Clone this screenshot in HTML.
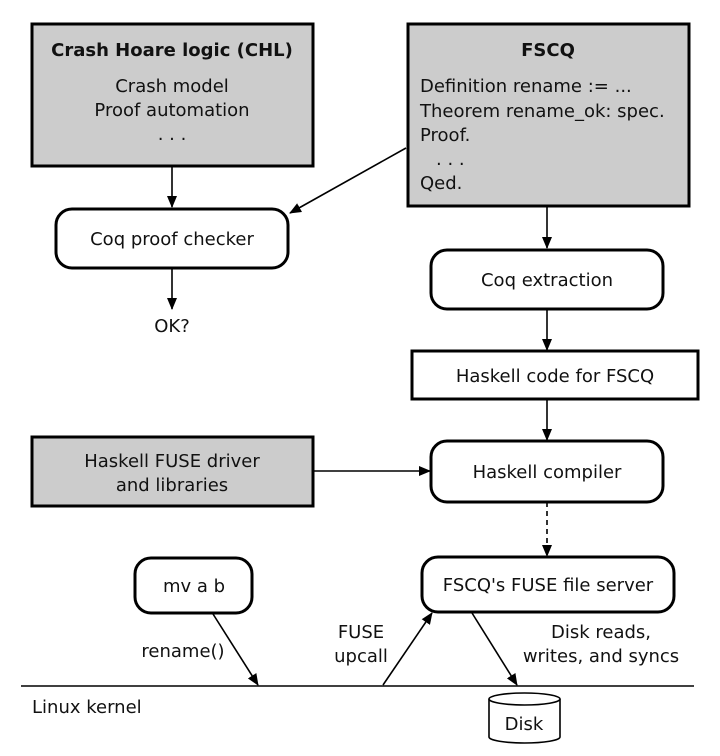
<!DOCTYPE html>
<html><head><meta charset="utf-8"><style>
html,body{margin:0;padding:0;background:#fff;}
svg{display:block;font-family:"DejaVu Sans","Liberation Sans",sans-serif;}
text{font-size:18px;fill:#111;}
</style></head><body>
<svg width="720" height="756" viewBox="0 0 720 756" xmlns="http://www.w3.org/2000/svg">
<defs>
<marker id="a" markerWidth="12" markerHeight="10" refX="11" refY="5" orient="auto" markerUnits="userSpaceOnUse">
<path d="M0,0 L12,5 L0,10 Z" fill="#000"/></marker>
</defs>
<g stroke="#000" stroke-width="3">
<rect x="32" y="24" width="281" height="142" fill="#cccccc"/>
<rect x="408" y="24" width="281" height="182" fill="#cccccc"/>
<rect x="56" y="209" width="232" height="59" rx="16" fill="#fff"/>
<rect x="431" y="250" width="232" height="59" rx="16" fill="#fff"/>
<rect x="412" y="351" width="286" height="48" fill="#fff"/>
<rect x="32" y="437" width="281" height="69" fill="#cccccc"/>
<rect x="431" y="441" width="232" height="61" rx="16" fill="#fff"/>
<rect x="135" y="558" width="117" height="55" rx="16" fill="#fff"/>
<rect x="422" y="557" width="252" height="55" rx="16" fill="#fff"/>
</g>
<g stroke="#000" stroke-width="1.6" fill="none">
<line x1="21" y1="686" x2="694" y2="686" stroke-width="1.4"/>
<line x1="172" y1="166" x2="172" y2="207" marker-end="url(#a)"/>
<line x1="406" y1="148" x2="290" y2="213" marker-end="url(#a)"/>
<line x1="547" y1="206" x2="547" y2="248" marker-end="url(#a)"/>
<line x1="172" y1="268" x2="172" y2="309" marker-end="url(#a)"/>
<line x1="547" y1="309" x2="547" y2="350" marker-end="url(#a)"/>
<line x1="547" y1="399" x2="547" y2="440" marker-end="url(#a)"/>
<line x1="313" y1="471" x2="430" y2="471" marker-end="url(#a)"/>
<line x1="547" y1="502" x2="547" y2="556" stroke-dasharray="5,4" marker-end="url(#a)"/>
<line x1="213" y1="614" x2="258" y2="685" marker-end="url(#a)"/>
<line x1="383" y1="685" x2="432" y2="613" marker-end="url(#a)"/>
<line x1="472" y1="613" x2="517" y2="685" marker-end="url(#a)"/>
</g>
<g stroke="#000" stroke-width="1.6" fill="#fff">
<path d="M489,699 L489,737 A35.5,6 0 0 0 560,737 L560,699"/>
<ellipse cx="524.5" cy="699" rx="35.5" ry="6"/>
</g>
<g text-anchor="middle">
<text x="172" y="56" font-weight="bold">Crash Hoare logic (CHL)</text>
<text x="172" y="92">Crash model</text>
<text x="172" y="116">Proof automation</text>
<text x="172" y="140">. . .</text>
<text x="548" y="56" font-weight="bold">FSCQ</text>
<text x="172" y="245">Coq proof checker</text>
<text x="172" y="332">OK?</text>
<text x="547" y="286">Coq extraction</text>
<text x="555" y="382">Haskell code for FSCQ</text>
<text x="172" y="467">Haskell FUSE driver</text>
<text x="172" y="491">and libraries</text>
<text x="547" y="478">Haskell compiler</text>
<text x="194" y="592">mv a b</text>
<text x="548" y="591">FSCQ's FUSE file server</text>
<text x="183" y="657">rename()</text>
<text x="361" y="638">FUSE</text>
<text x="361" y="662">upcall</text>
<text x="601" y="638">Disk reads,</text>
<text x="601" y="662">writes, and syncs</text>
<text x="524" y="730">Disk</text>
</g>
<text x="420" y="92">Definition rename := ...</text>
<text x="420" y="117">Theorem rename_ok: spec.</text>
<text x="420" y="141">Proof.</text>
<text x="436" y="165">. . .</text>
<text x="420" y="189">Qed.</text>
<text x="32" y="713">Linux kernel</text>
</svg>
</body></html>
